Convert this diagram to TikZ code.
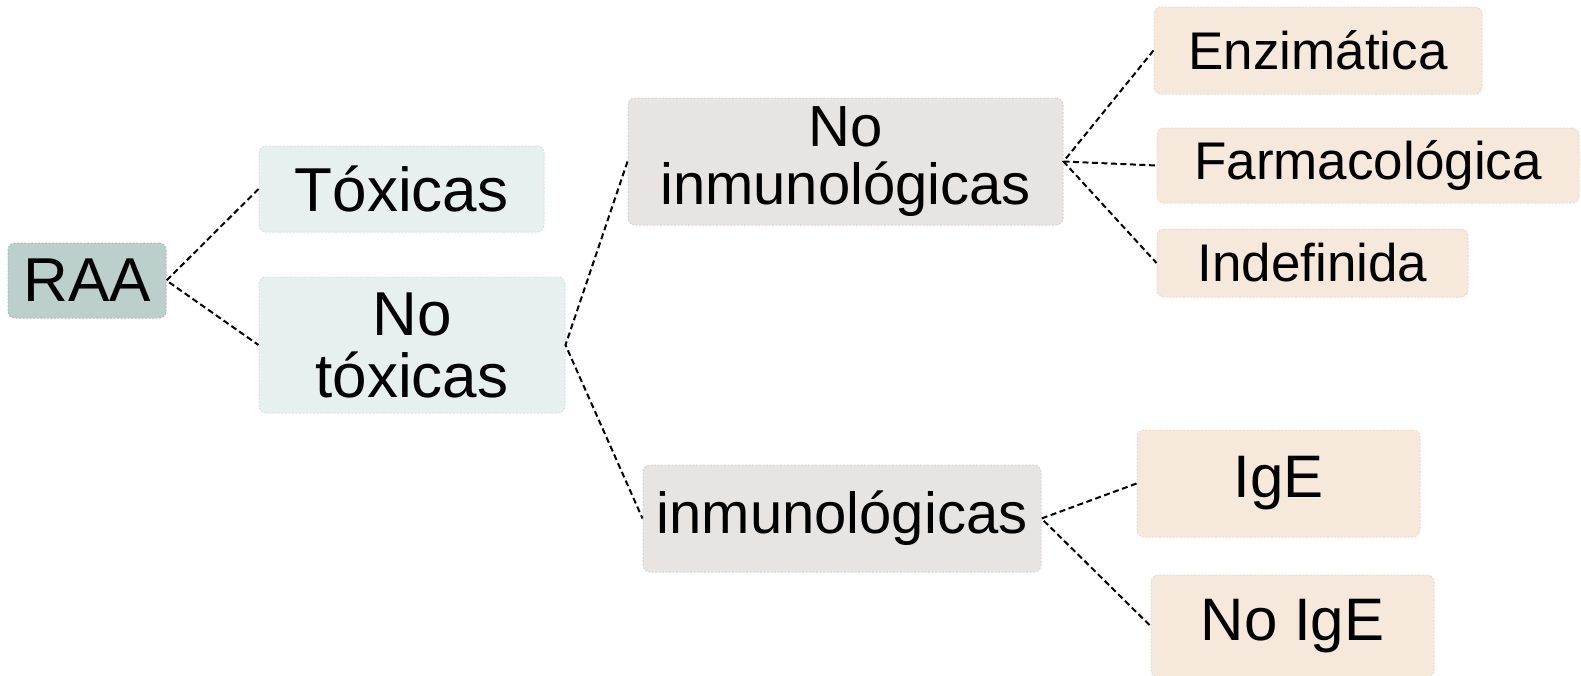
\documentclass[tikz,border=0pt]{standalone}
\usepackage{fontspec}
\setmainfont{Liberation Sans}
\definecolor{raafill}{HTML}{BBCFCC}
\definecolor{raaline}{HTML}{A9BFBC}
\definecolor{tealfill}{HTML}{E7F0EF}
\definecolor{tealline}{HTML}{D8E4E2}
\definecolor{grayfill}{HTML}{E8E4E1}
\definecolor{grayline}{HTML}{DAD5D1}
\definecolor{orfill}{HTML}{F6E8DB}
\definecolor{orline}{HTML}{EDDCCB}
\tikzset{
  box/.style={rectangle, rounded corners=7pt, inner sep=0pt, align=center,
    dash pattern=on 2pt off 1.5pt, line width=1pt},
  raabox/.style={box, fill=raafill, draw=raaline},
  tealbox/.style={box, fill=tealfill, draw=tealline},
  graybox/.style={box, fill=grayfill, draw=grayline},
  orbox/.style={box, fill=orfill, draw=orline},
  link/.style={draw=black, line width=2pt, dash pattern=on 6pt off 3.5pt},
  fs/.style={font=\fontsize{#1}{#1}\selectfont}
}
\begin{document}
\begin{tikzpicture}[x=1pt,y=-1pt]
\useasboundingbox (0,0) rectangle (1581,675);
\node[raabox, fs=62, minimum width=158pt, minimum height=75pt] (raa) at (87,280.5) {RAA};
\node[tealbox, fs=62, minimum width=285pt, minimum height=86pt] (tox) at (401.5,189) {Tóxicas};
\node[tealbox, fs=62, minimum width=306pt, minimum height=136pt] (notox) at (412,345) {No\\tóxicas};
\node[graybox, fs=58, minimum width=435pt, minimum height=127pt] (noinm) at (845.5,161.5) {No\\inmunológicas};
\node[graybox, fs=58, minimum width=398pt, minimum height=107pt] (inm) at (842,518.5) {inmunológicas};
\node[orbox, fs=53, minimum width=328pt, minimum height=87pt] (enz) at (1318,50.5) {Enzimática};
\node[orbox, fs=53, minimum width=422pt, minimum height=75pt] (farm) at (1368,165.5) {Farmacológica};
\node[orbox, fs=53, minimum width=311pt, minimum height=68pt] (indef) at (1312.5,263) {Indefinida};
\node[orbox, fs=60, minimum width=283pt, minimum height=107pt] (ige) at (1278.5,483.5) {IgE};
\node[orbox, fs=60, minimum width=283pt, minimum height=102pt] (noige) at (1292.5,626) {No IgE};
\draw[link] (tox.west) -- (raa.east) -- (notox.west);
\draw[link] (noinm.west) -- (notox.east) -- (inm.west);
\draw[link] (enz.west) -- (noinm.east) -- (indef.west);
\draw[link] (noinm.east) -- (farm.west);
\draw[link] (ige.west) -- (inm.east) -- (noige.west);
\end{tikzpicture}
\end{document}
